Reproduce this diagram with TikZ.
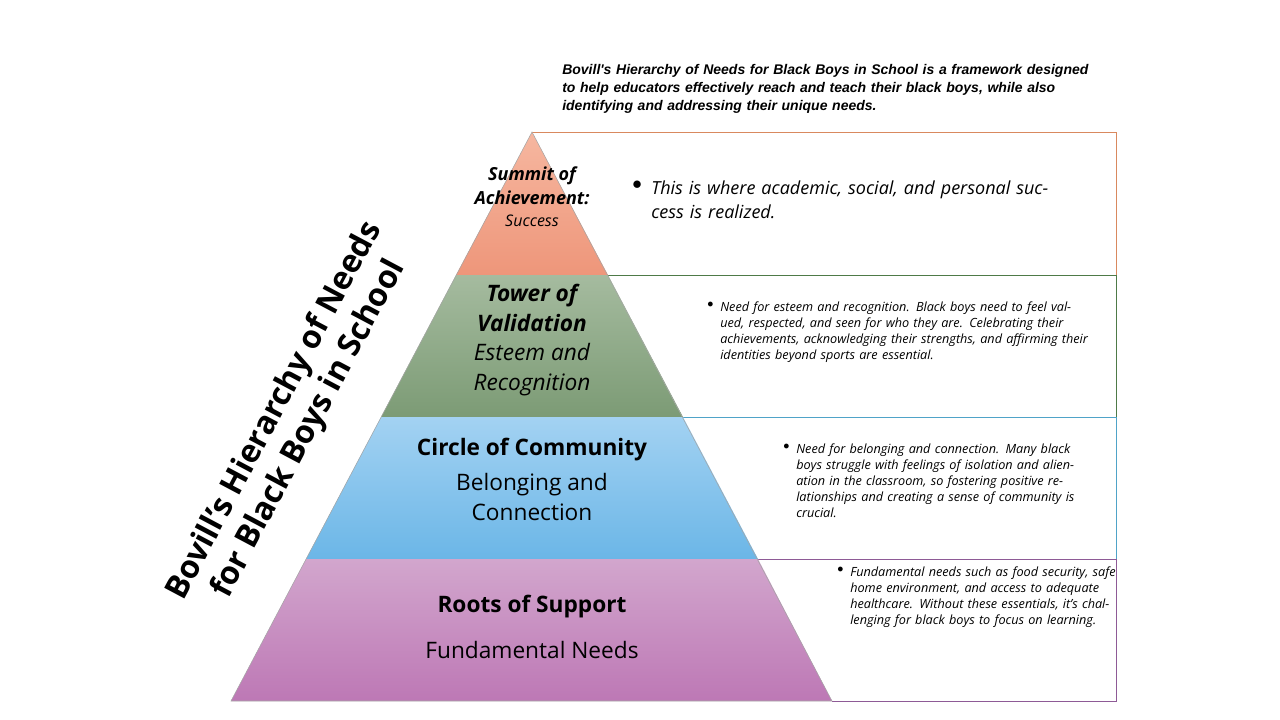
\documentclass[tikz,border=0pt]{standalone}
\usepackage{fontspec}
\setmainfont{Open Sans}
\newfontfamily\headfont{Liberation Sans}
\definecolor{summitA}{HTML}{F6B7A0}
\definecolor{summitB}{HTML}{EE967A}
\definecolor{towerA}{HTML}{A5BB9F}
\definecolor{towerB}{HTML}{7C9B75}
\definecolor{circleA}{HTML}{A3D2F2}
\definecolor{circleB}{HTML}{6BB6E7}
\definecolor{rootsA}{HTML}{D2A6CD}
\definecolor{rootsB}{HTML}{BD78B5}
\definecolor{summitline}{HTML}{D9895E}
\definecolor{towerline}{HTML}{4E7A48}
\definecolor{circleline}{HTML}{4FA3C8}
\definecolor{rootsline}{HTML}{8E5A96}
\usetikzlibrary{positioning}
\begin{document}
\begin{tikzpicture}[x=0.75pt,y=-0.75pt,
		level/.style={draw=gray!70, thin},
		sidebox/.style={draw=#1, line width=0.6pt},
		bullet/.style={anchor=north west, align=left, text width=#1, inner sep=0pt, font=\itshape\fontsize{9.5}{12}\selectfont}]
			\useasboundingbox (0,0) rectangle (1280,720);
			
			% side boxes
			\draw[sidebox=summitline] (532,132) -- (1116,132) -- (1116,275) -- (608,275);
			\draw[sidebox=towerline] (608,275) -- (1116,275) -- (1116,417) -- (683,417);
			\draw[sidebox=circleline] (683,417) -- (1116,417) -- (1116,559) -- (758,559);
			\draw[sidebox=rootsline] (758,559) -- (1116,559) -- (1116,701) -- (832,701);
			
			% pyramid levels
			\shade[top color=summitA, bottom color=summitB] (532,132) -- (608,275) -- (456,275) -- cycle;
			\shade[top color=towerA, bottom color=towerB] (456,275) -- (608,275) -- (683,417) -- (381,417) -- cycle;
			\shade[top color=circleA, bottom color=circleB] (381,417) -- (683,417) -- (758,559) -- (306,559) -- cycle;
			\shade[top color=rootsA, bottom color=rootsB] (306,559) -- (758,559) -- (832,701) -- (231,701) -- cycle;
			\draw[level] (532,132) -- (832,701) -- (231,701) -- cycle;
			
			% level labels
			\node[font=\bfseries\itshape\fontsize{13.5}{18}\selectfont, align=center] (summit) at (532,186) {Summit of\\Achievement:};
			\node[font=\itshape\fontsize{12}{14}\selectfont, below=0pt of summit] (success) {Success};
			\node[font=\bfseries\itshape\fontsize{17}{22}\selectfont, align=center] (tower) at (532,308) {Tower of\\Validation};
			\node[font=\itshape\fontsize{17}{22}\selectfont, align=center, below=2pt of tower] (esteem) {Esteem and\\Recognition};
			\node[font=\bfseries\fontsize{17}{22}\selectfont] (circle) at (532,450) {Circle of Community};
			\node[font=\fontsize{17}{22}\selectfont, align=center, below=2pt of circle] (belong) {Belonging and\\Connection};
			\node[font=\bfseries\fontsize{17}{22}\selectfont] (roots) at (532,607) {Roots of Support};
			\node[font=\fontsize{17}{22}\selectfont] (fundamental) at (532,650) {Fundamental Needs};
			
			% title
			\node[font=\bfseries\fontsize{24}{29}\selectfont, align=center, rotate=62] (title) at (292,420) {Bovill's Hierarchy of Needs\\for Black Boys in School};
			
			% header
			\node[anchor=north west, align=left, text width=395pt, inner sep=0pt, font=\headfont\bfseries\itshape\fontsize{10.5}{13.5}\selectfont] (header) at (562,64) {Bovill's Hierarchy of Needs for Black Boys in School is a framework designed to help educators effectively reach and teach their black boys, while also identifying and addressing their unique needs.};
			
			% descriptions
			\node[anchor=north west, inner sep=0pt, font=\fontsize{13.5}{17}\selectfont] (dotA) at (632,181) {$\bullet$};
			\node[bullet=310pt, font=\itshape\fontsize{13.5}{17.5}\selectfont] (descA) at (651,181) {This is where academic, social, and personal success is realized.};
			\node[anchor=north west, inner sep=0pt, font=\fontsize{9.5}{12}\selectfont] (dotB) at (707,302) {$\bullet$};
			\node[bullet=276pt] (descB) at (720,302) {Need for esteem and recognition. Black boys need to feel valued, respected, and seen for who they are. Celebrating their achievements, acknowledging their strengths, and affirming their identities beyond sports are essential.};
			\node[anchor=north west, inner sep=0pt, font=\fontsize{9.5}{12}\selectfont] (dotC) at (783,444) {$\bullet$};
			\node[bullet=220pt] (descC) at (796,444) {Need for belonging and connection. Many black boys struggle with feelings of isolation and alienation in the classroom, so fostering positive relationships and creating a sense of community is crucial.};
			\node[anchor=north west, inner sep=0pt, font=\fontsize{9.5}{12}\selectfont] (dotD) at (837,567) {$\bullet$};
			\node[bullet=200pt] (descD) at (850,567) {Fundamental needs such as food security, safe home environment, and access to adequate healthcare. Without these essentials, it's challenging for black boys to focus on learning.};
			
		\end{tikzpicture}
\end{document}
